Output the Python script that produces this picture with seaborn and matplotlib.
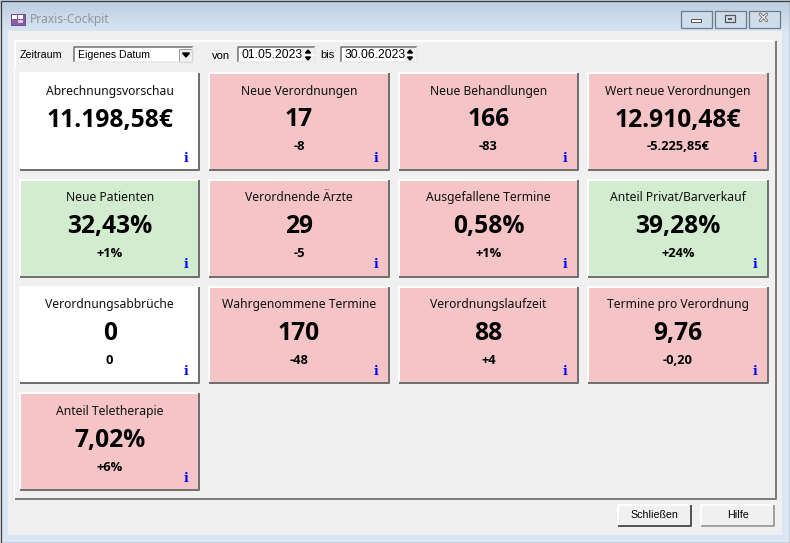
import numpy as np
import pandas as pd
import matplotlib
matplotlib.use("Agg")
import matplotlib.pyplot as plt
import matplotlib.patheffects as pe
import seaborn as sns
from matplotlib.colors import ListedColormap
from matplotlib.patches import Rectangle

titles = ["Abrechnungsvorschau", "Neue Verordnungen", "Neue Behandlungen", "Wert neue Verordnungen",
          "Neue Patienten", "Verordnende Ärzte", "Ausgefallene Termine", "Anteil Privat/Barverkauf",
          "Verordnungsabbrüche", "Wahrgenommene Termine", "Verordnungslaufzeit", "Termine pro Verordnung",
          "Anteil Teletherapie"]
values = ["11.198,58€", "17", "166", "12.910,48€",
          "32,43%", "29", "0,58%", "39,28%",
          "0", "170", "88", "9,76",
          "7,02%"]
deltas = ["", "-8", "-83", "-5.225,85€",
          "+1%", "-5", "+1%", "+24%",
          "0", "-48", "+4", "-0,20",
          "+6%"]
# 0 neutral, 1 red, 2 green
status = [0, 1, 1, 1,
          2, 1, 1, 2,
          0, 1, 1, 1,
          1]

W, H = 790, 543
PANEL = "#f0f0f0"
FONT = "Noto Sans"
BOLD_FONT = "Open Sans"
UI_FONT = "Liberation Sans"

sns.set_theme(style="white")
plt.rcParams["font.family"] = [FONT, "DejaVu Sans"]

cells = np.full((4, 4), np.nan)
cells.flat[:len(status)] = status
df = pd.DataFrame(cells)

fig = plt.figure(figsize=(W / 100, H / 100), dpi=100, facecolor="#dbe6f3")


def px_axes(z):
    a = fig.add_axes([0, 0, 1, 1], zorder=z)
    a.set_xlim(0, W)
    a.set_ylim(H, 0)
    a.axis("off")
    return a


def box(a, x, y, w, h, **kw):
    a.add_patch(Rectangle((x, y), w, h, **kw))


def bevel(a, x0, y0, x1, y1, light="white", dark="#707070", lw=2):
    w = lw * 0.72
    a.plot([x0, x0, x1], [y1, y0, y0], color=light, lw=w, solid_capstyle="butt")
    a.plot([x0, x1, x1], [y1, y1, y0], color=dark, lw=w, solid_capstyle="butt")


# window chrome
bg = px_axes(0)
bg.imshow(np.linspace(0, 1, 40).reshape(-1, 1), extent=(0, W, 32, 0), aspect="auto",
          cmap=ListedColormap(sns.blend_palette(["#bccddf", "#d9e5f2"], 40)), zorder=0)
bg.set_xlim(0, W)
bg.set_ylim(H, 0)
box(bg, 8, 31, 774, 504, fc=PANEL, ec="none", zorder=1)
box(bg, 0.5, 0.5, W - 1, H - 1, fc="none", ec="#3c3c3c", lw=0.9, zorder=2)
bevel(bg, 14.5, 40.5, 775.5, 499, lw=2, dark="#7d7d7d")

# title bar
box(bg, 10.5, 13.5, 14, 11, fc="#8a5ca8", ec="#6d4a8c", lw=0.7, zorder=3)
box(bg, 12, 15, 5, 3.5, fc="white", ec="none", zorder=4)
box(bg, 18, 15, 5, 3.5, fc="white", ec="none", zorder=4)
box(bg, 18, 20, 5, 3, fc="#d9c8e6", ec="none", zorder=4)
bg.text(30, 19.5, "Praxis-Cockpit", color="#8e979f", fontsize=8.6, va="center", family=FONT, zorder=5)
for x0, x1 in [(680, 711), (714, 745), (748, 779)]:
    box(bg, x0 + 0.5, 10.5, x1 - x0, 17, fc="#cfdcea", ec="#6f7a88", lw=0.9, zorder=3)
box(bg, 691, 19, 10, 3, fc="#f4f6f8", ec="#555555", lw=0.7, zorder=4)
box(bg, 725, 15, 10, 7, fc="none", ec="#555555", lw=0.9, zorder=4)
box(bg, 728, 17.5, 4, 2, fc="#555555", ec="none", zorder=4)
bg.text(763.5, 18.5, "✕", color="#f2f2f2", fontsize=10, ha="center", va="center", weight="bold",
        family="DejaVu Sans", zorder=5,
        path_effects=[pe.withStroke(linewidth=1, foreground="#555555")])

# the card grid: cell pitch is 189 x 106.7 px, gaps come from the heatmap lines
gx0, gx1, gy0, gy1 = 15, 772.5, 68, 495
hm_ax = fig.add_axes([gx0 / W, 1 - gy1 / H, (gx1 - gx0) / W, (gy1 - gy0) / H], zorder=1)
hm_ax.patch.set_alpha(0)
sns.heatmap(df, ax=hm_ax, cmap=ListedColormap(["white", "#f5c4c6", "#d2ecd0"]), vmin=-0.5, vmax=2.5,
            cbar=False, linewidths=7.0, linecolor=PANEL, xticklabels=False, yticklabels=False)
hm_ax.axis("off")

fg = px_axes(2)
fg.patch.set_alpha(0)
pitch_x = (gx1 - gx0) / 4
pitch_y = (gy1 - gy0) / 4
for i, (t, v, d) in enumerate(zip(titles, values, deltas)):
    r, c = divmod(i, 4)
    x0 = gx0 + pitch_x * c + 5
    x1 = x0 + pitch_x - 10
    y0 = gy0 + pitch_y * r + 5
    y1 = y0 + pitch_y - 10
    cx = (x0 + x1) / 2
    bevel(fg, x0, y0, x1, y1)
    fg.text(cx, y0 + 18, t, ha="center", va="center", fontsize=8.75, color="#111111")
    fg.text(cx, y0 + 47, v, ha="center", va="center", fontsize=17.7, weight="bold", family=BOLD_FONT, color="black")
    if d:
        fg.text(cx, y0 + 74, d, ha="center", va="center", fontsize=9.3, weight="bold", family=BOLD_FONT, color="black")
    fg.text(x1 - 13, y0 + 85, "i", ha="center", va="center", fontsize=9, weight="bold",
            family="DejaVu Serif", color="#0000ff")

# filter row
fg.text(20, 55.5, "Zeitraum", fontsize=7.7, va="center", family=UI_FONT, color="black")
box(fg, 74, 47, 119, 15, fc="white", ec="none")
bevel(fg, 74, 47, 193, 62, light="#6e6e6e", dark="#e8e8e8", lw=1.5)
fg.text(78, 55, "Eigenes Datum", fontsize=7.6, va="center", family=UI_FONT, color="black")
box(fg, 179, 48.5, 13, 13, fc=PANEL, ec="#9a9a9a", lw=0.7)
fg.fill([182.5, 189.5, 186], [53, 53, 57], color="black")
fg.text(212, 56, "von", fontsize=8, va="center", family=UI_FONT, color="black")
fg.text(320, 54.5, "bis", fontsize=8, va="center", family=UI_FONT, color="black")
for x0, x1, label in [(238, 315, "01.05.2023"), (341, 417, "30.06.2023")]:
    box(fg, x0, 47, x1 - x0, 15, fc="white", ec="none")
    bevel(fg, x0, 47, x1, 62, light="#6e6e6e", dark="#e8e8e8", lw=1.5)
    fg.text(x0 + 4, 55, label, fontsize=8.7, va="center", family=UI_FONT, color="black")
    box(fg, x1 - 13, 48, 12, 13, fc=PANEL, ec="none")
    fg.plot([x1 - 13, x1 - 1], [54.5, 54.5], color="white", lw=0.7)
    fg.fill([x1 - 9.5, x1 - 4.5, x1 - 7], [53, 53, 50], color="black")
    fg.fill([x1 - 9.5, x1 - 4.5, x1 - 7], [57, 57, 60], color="black")

# buttons
for x0, x1, label, dark, lw in [(618, 691, "Schließen", "#555555", 2), (701, 774, "Hilfe", "#8a8a8a", 1.5)]:
    box(fg, x0, 505, x1 - x0, 21, fc=PANEL, ec="none")
    bevel(fg, x0, 505, x1, 526, light="white", dark=dark, lw=lw)
    fg.text((x0 + x1) / 2, 515.5, label, ha="center", va="center", fontsize=7.7, family=UI_FONT, color="black")

fig.savefig("out.png", dpi=100, facecolor=fig.get_facecolor())
